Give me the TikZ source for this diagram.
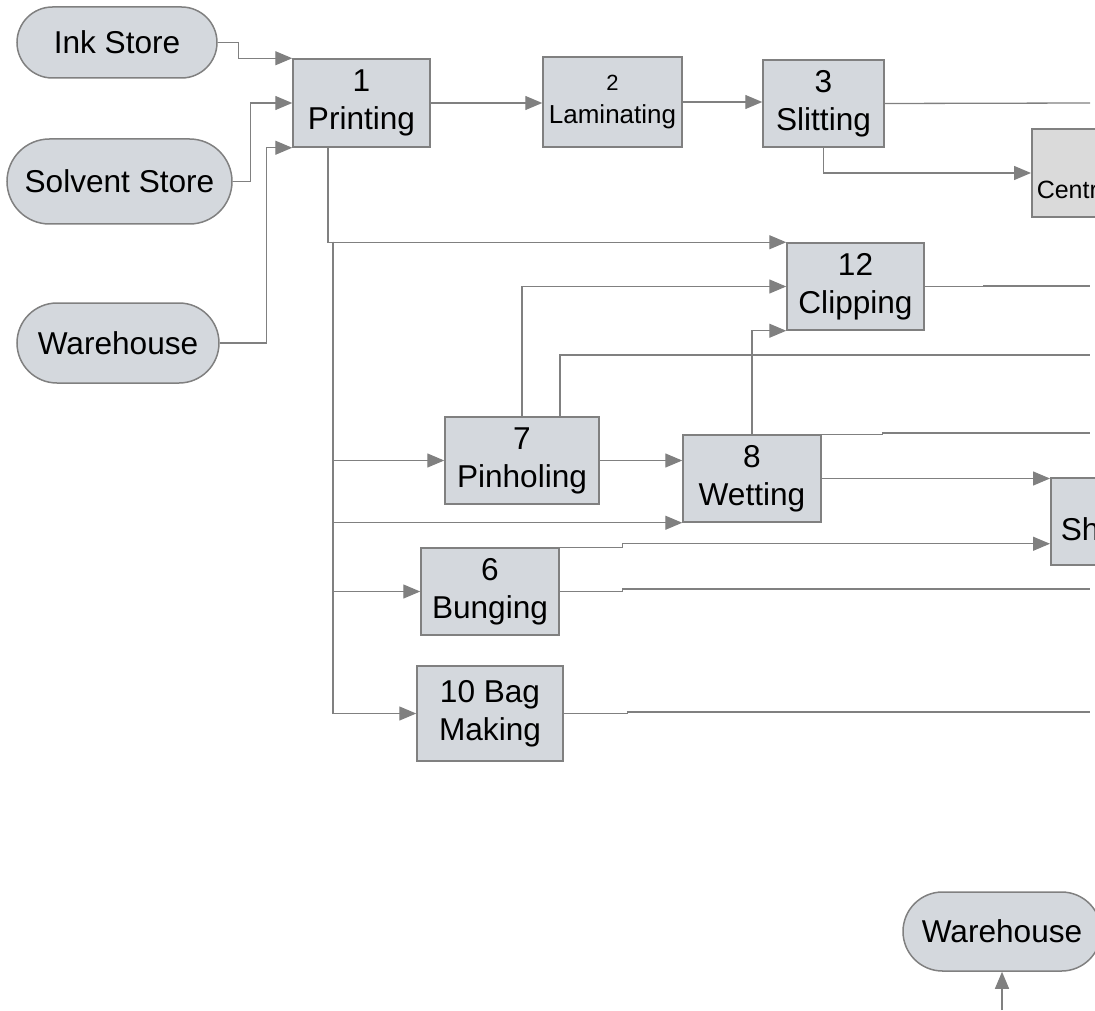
\documentclass[tikz,border=0pt]{standalone}
\usepackage{fontspec}
\setmainfont{Liberation Sans}
\usetikzlibrary{arrows.meta}

\definecolor{boxfill}{RGB}{212,216,221}
\definecolor{cutfill}{RGB}{218,218,218}
\definecolor{linegray}{RGB}{128,128,128}

\tikzset{proc/.style={draw=linegray,line width=0.75pt,fill=boxfill,inner sep=0pt,align=center,font=\fontsize{15.8}{19}\selectfont},
store/.style={proc,rounded corners=#1},
cut/.style={proc,anchor=west,align=left},
link/.style={draw=linegray,line width=0.65pt},
flow/.style={link,-{Triangle[length=8.5pt,width=7pt]}}}

\begin{document}
\begin{tikzpicture}[x=0.5pt,y=-0.5pt]
\clip (0,0) rectangle (1095,1010);

%% Coordinates of nodes.
\coordinate (ink) at (117,42.5);
\coordinate (solv) at (119.5,181.5);
\coordinate (whl) at (118,343);
\coordinate (print) at (361.5,103);
\coordinate (lam) at (612.5,102);
\coordinate (slit) at (823.5,103.5);
\coordinate (centr) at (1031,173);
\coordinate (clip) at (855.5,286.5);
\coordinate (pin) at (522,460.5);
\coordinate (wet) at (752,478.5);
\coordinate (sh) at (1050,521.5);
\coordinate (bung) at (490,591.5);
\coordinate (bag) at (490,713.5);
\coordinate (whb) at (1002,931.5);

%% free ends at the right edge
\coordinate (trunk) at (333,242);
\coordinate (out1) at (1090,103);
\coordinate (out2) at (1090,286);
\coordinate (out3) at (1090,355);
\coordinate (out4) at (1090,433);
\coordinate (out5) at (1090,589);
\coordinate (out6) at (1090,712);
\coordinate (wbin) at (1002,1010);

%% stores
\node [store=17.75pt,minimum width=100pt,minimum height=35.5pt] (n ink) at (ink) {Ink Store};
\node [store=21.25pt,minimum width=112.5pt,minimum height=42.5pt] (n solv) at (solv) {Solvent Store};
\node [store=20pt,minimum width=101pt,minimum height=40pt] (n whl) at (whl) {Warehouse};
\node [store=19.75pt,minimum width=99pt,minimum height=39.5pt] (n whb) at (whb) {Warehouse};

%% operations
\node [proc,minimum width=68.5pt,minimum height=44pt] (n print) at (print) {1\\Printing};
\node [proc,minimum width=69.5pt,minimum height=45pt,font=\fontsize{13}{16.5}\selectfont] (n lam) at (lam) {{\fontsize{11}{13}\selectfont 2}\\Laminating};
\node [proc,minimum width=60.5pt,minimum height=43.5pt] (n slit) at (slit) {3\\Slitting};
\node [proc,minimum width=68.5pt,minimum height=43.5pt] (n clip) at (clip) {12\\Clipping};
\node [proc,minimum width=77pt,minimum height=43.5pt] (n pin) at (pin) {7\\Pinholing};
\node [proc,minimum width=69pt,minimum height=43.5pt] (n wet) at (wet) {8\\Wetting};
\node [proc,minimum width=69pt,minimum height=43.5pt] (n bung) at (bung) {6\\Bunging};
\node [proc,minimum width=73pt,minimum height=47.5pt] (n bag) at (bag) {10 Bag\\Making};
\node [cut,fill=cutfill,text width=60pt,inner xsep=2.5pt,minimum height=44pt,font=\fontsize{12.5}{26}\selectfont] (n centr) at (centr) {\mbox{}\\Centr};
\node [cut,text width=55pt,inner xsep=5pt,minimum height=43.5pt] (n sh) at (sh) {\mbox{}\\Sh};

%% inputs to printing
\draw [flow] (n ink.east) -- ++(21,0) |- (n print.north west);
\draw [flow] (n solv.east) -- ++(18,0) |- (n print.west);
\draw [flow] (n whl.east) -- ++(47,0) |- (n print.south west);

%% main line
\draw [flow] (n print.east) -- (n print.east -| n lam.west);
\draw [flow] (n lam.east) -- (n lam.east -| n slit.west);
\draw [link] (n slit.east) -- (out1);
\draw [flow] (n slit.south) |- (n centr.west);

%% from printing down the trunk
\draw [flow] ([xshift=-16.75pt]n print.south) |- (n clip.north west);
\draw [link] (trunk) -- (trunk |- n bag.west);
\draw [flow] (trunk) |- (n pin.west);
\draw [flow] (trunk) |- (n wet.south west);
\draw [flow] (trunk) |- (n bung.west);
\draw [flow] (trunk) |- (n bag.west);

%% pinholing and wetting
\draw [flow] (n pin.east) -- (n pin.east -| n wet.west);
\draw [flow] (n pin.north) |- (n clip.west);
\draw [link] ([xshift=19pt]n pin.north) |- (out3);
\draw [flow] (n wet.north) |- (n clip.south west);
\draw [link] (n wet.north east) -- ++(61,0) |- (out4);
\draw [flow] (n wet.east) -- (n wet.east -| n sh.west);

%% to the right edge
\draw [link] (n clip.east) -- ++(59,0) |- (out2);
\draw [flow] (n bung.north east) -- ++(63,0) |- ([yshift=11pt]n sh.south west);
\draw [link] (n bung.east) -- ++(63,0) |- (out5);
\draw [link] (n bag.east) -- ++(64,0) |- (out6);

%% into the bottom warehouse
\draw [flow] (wbin) -- (n whb.south);

\end{tikzpicture}
\end{document}
